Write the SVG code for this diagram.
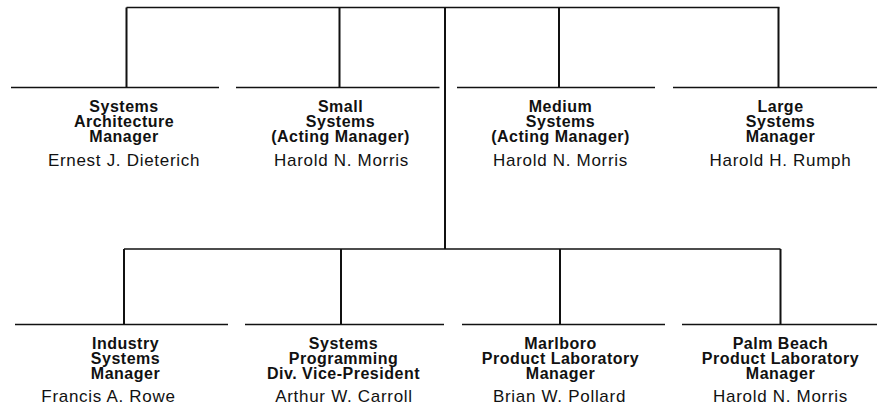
<svg xmlns="http://www.w3.org/2000/svg" width="877" height="407" viewBox="0 0 877 407">
<style>
.ln{stroke:#111;stroke-width:1.6;fill:none;stroke-linecap:butt}
.v{stroke-width:2}
.t{font-family:"Liberation Sans",Arial,Helvetica,sans-serif;font-weight:bold;font-size:16px;letter-spacing:0.5px;fill:#111;text-anchor:middle}
.n{font-family:"Liberation Sans",Arial,Helvetica,sans-serif;font-size:17px;letter-spacing:0.7px;fill:#111;text-anchor:middle}
</style>
<rect width="877" height="407" fill="#fff"/>
<g id="connectors">
<path class="ln" d="M126.5 7.5H779.5"/>
<path class="ln v" d="M126.5 7.5V87.5M339.5 7.5V87.5M559 7.5V87.5M778.5 7.5V87.5"/>
<path class="ln v" d="M445 7.5V249"/>
<path class="ln" d="M124 249H780.5"/>
<path class="ln v" d="M124 249V324.5M341 249V324.5M560 249V324.5M780.5 249V324.5"/>
</g>
<g id="n-sysarch">
<path class="ln" d="M11 87.5H219"/>
<text class="t" x="124" y="112">Systems</text>
<text class="t" x="124" y="127">Architecture</text>
<text class="t" x="124" y="142">Manager</text>
<text class="n" x="124" y="166">Ernest J. Dieterich</text>
</g>
<g id="n-small">
<path class="ln" d="M236 87.5H439.5"/>
<text class="t" x="340.5" y="112">Small</text>
<text class="t" x="340.5" y="127">Systems</text>
<text class="t" x="340.5" y="142">(Acting Manager)</text>
<text class="n" x="341.5" y="166">Harold N. Morris</text>
</g>
<g id="n-medium">
<path class="ln" d="M457 87.5H655"/>
<text class="t" x="560.5" y="112">Medium</text>
<text class="t" x="560.5" y="127">Systems</text>
<text class="t" x="560.5" y="142">(Acting Manager)</text>
<text class="n" x="560.5" y="166">Harold N. Morris</text>
</g>
<g id="n-large">
<path class="ln" d="M673 87.5H877"/>
<text class="t" x="780.5" y="112">Large</text>
<text class="t" x="780.5" y="127">Systems</text>
<text class="t" x="780.5" y="142">Manager</text>
<text class="n" x="780.5" y="166">Harold H. Rumph</text>
</g>
<g id="n-industry">
<path class="ln" d="M15 324.5H228"/>
<text class="t" x="125.5" y="349">Industry</text>
<text class="t" x="125.5" y="363.5">Systems</text>
<text class="t" x="125.5" y="378.5">Manager</text>
<text class="n" x="108.5" y="402">Francis A. Rowe</text>
</g>
<g id="n-sysprog">
<path class="ln" d="M245 324.5H444"/>
<text class="t" x="343.5" y="349">Systems</text>
<text class="t" x="343.5" y="363.5">Programming</text>
<text class="t" x="343.5" y="378.5">Div. Vice-President</text>
<text class="n" x="344" y="402">Arthur W. Carroll</text>
</g>
<g id="n-marlboro">
<path class="ln" d="M462 324.5H665"/>
<text class="t" x="560.5" y="349">Marlboro</text>
<text class="t" x="560.5" y="363.5">Product Laboratory</text>
<text class="t" x="560.5" y="378.5">Manager</text>
<text class="n" x="559.5" y="402">Brian W. Pollard</text>
</g>
<g id="n-palmbeach">
<path class="ln" d="M682 324.5H877"/>
<text class="t" x="780.5" y="349">Palm Beach</text>
<text class="t" x="780.5" y="363.5">Product Laboratory</text>
<text class="t" x="780.5" y="378.5">Manager</text>
<text class="n" x="780.5" y="402">Harold N. Morris</text>
</g>
</svg>
